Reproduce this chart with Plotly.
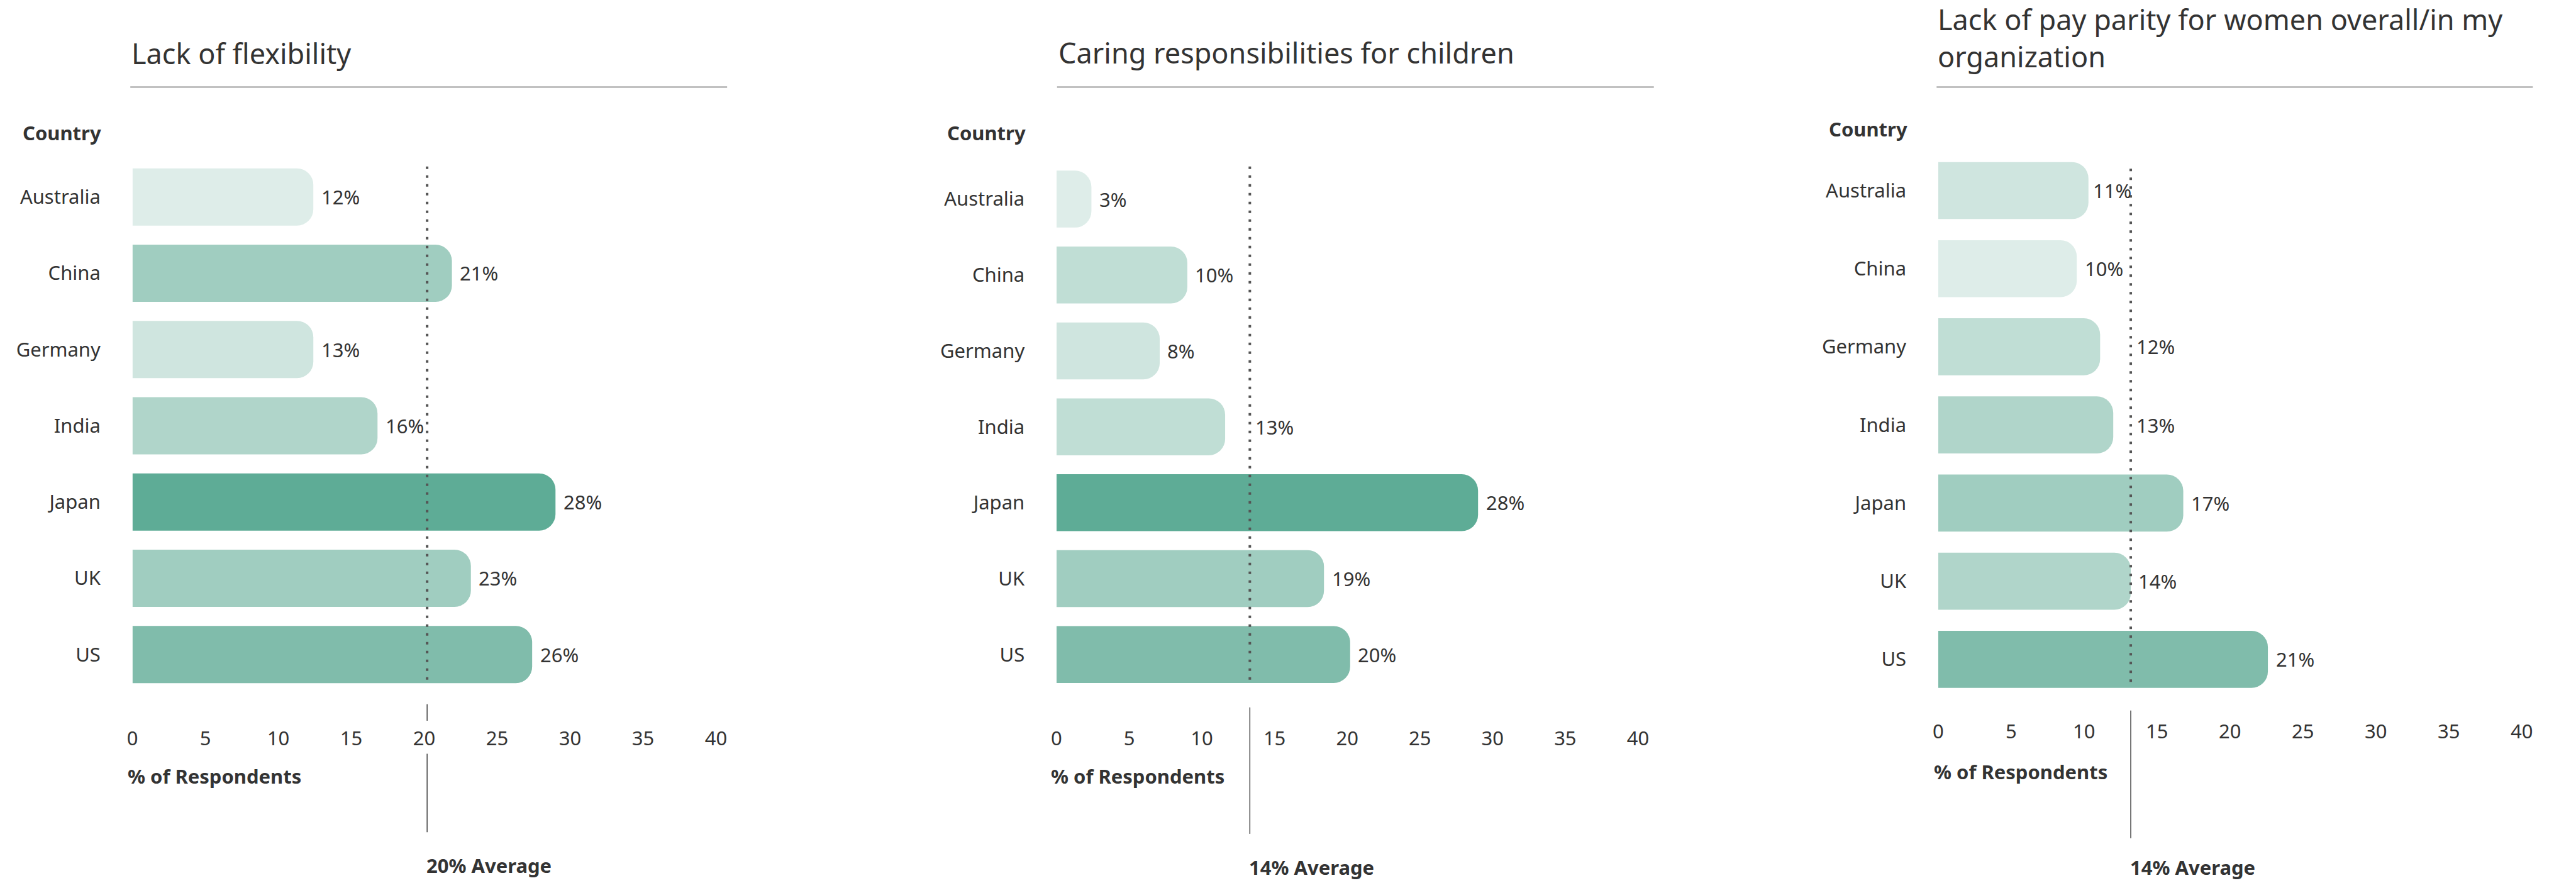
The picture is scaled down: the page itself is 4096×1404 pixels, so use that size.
import plotly.graph_objects as go

# ---------------- DATA ----------------
countries = ["Australia", "China", "Germany", "India", "Japan", "UK", "US"]

flex_values = [12.4, 21.9, 12.4, 16.8, 29.0, 23.2, 27.4]
flex_labels = ["12%", "21%", "13%", "16%", "28%", "23%", "26%"]

care_values = [2.4, 9.0, 7.1, 11.6, 29.0, 18.4, 20.2]
care_labels = ["3%", "10%", "8%", "13%", "28%", "19%", "20%"]

pay_values = [10.3, 9.5, 11.1, 12.0, 16.8, 13.2, 22.6]
pay_labels = ["11%", "10%", "12%", "13%", "17%", "14%", "21%"]

titles = [
    "Lack of flexibility",
    "Caring responsibilities for children",
    "Lack of pay parity for women overall/in my<br>organization",
]
avg_values = [20.2, 13.3, 13.2]
avg_labels = ["20% Average", "14% Average", "14% Average"]

x_ticks = [0, 5, 10, 15, 20, 25, 30, 35, 40]
x_axis_label = "% of Respondents"
y_axis_label = "Country"

# ---------------- STYLE ----------------
W0, H0 = 4824, 1654          # reference size
S = 0.849                    # scale to output
W, H = 4096, 1404
FONT = "Noto Sans"
TXT = "#333333"
FS = 31
TITLE_FS = 45

shades = ["#DEEDE9", "#CFE5DF", "#C0DED5", "#B0D5CA", "#A0CDC0", "#80BCAB", "#5EAC96"]
flex_colors = [shades[i] for i in [0, 4, 1, 3, 6, 4, 5]]
care_colors = [shades[i] for i in [0, 2, 1, 2, 6, 4, 5]]
pay_colors = [shades[i] for i in [1, 0, 2, 3, 4, 3, 5]]

LABEL_GAP = 0.45             # axis units between bar end and its label
CHAR_W = 0.87                # approx. label character width, axis units


def fx(x):
    return x / W0


def fy(y):
    return 1 - y / H0


panels = [
    dict(x0=239, x40=1339, ytop=297.6, ybot=1297.4, tick_y=1381, resp_x=228, resp_y=1454,
         avg_lbl_y=1621, avg_top=1319, avg_bot=1559, dot_top=312, dot_bot=1282,
         country_x=183, country_y=248, title_x=235, title_y=100, line_x1=1360, bw=0.75),
    dict(x0=1981, x40=3077, ytop=301.9, ybot=1297.1, tick_y=1381, resp_x=1968, resp_y=1454,
         avg_lbl_y=1625, avg_top=1325, avg_bot=1562, dot_top=312, dot_bot=1282,
         country_x=1925, country_y=248, title_x=1982, title_y=98, line_x1=3107, bw=0.75),
    dict(x0=3643, x40=4743, ytop=283.8, ybot=1308.2, tick_y=1368, resp_x=3633, resp_y=1445,
         avg_lbl_y=1624, avg_top=1331, avg_bot=1570, dot_top=316, dot_bot=1284,
         country_x=3587, country_y=241, title_x=3640, title_y=71, line_x1=4764, bw=0.73),
]

series = [
    (flex_values, flex_labels, flex_colors),
    (care_values, care_labels, care_colors),
    (pay_values, pay_labels, pay_colors),
]

fig = go.Figure()
shapes = []
annotations = []
layout_axes = {}

for i, (p, (vals, labs, cols)) in enumerate(zip(panels, series)):
    n = i + 1
    xa = "x" if n == 1 else f"x{n}"
    ya = "y" if n == 1 else f"y{n}"
    xkey = "xaxis" if n == 1 else f"xaxis{n}"
    ykey = "yaxis" if n == 1 else f"yaxis{n}"
    av = avg_values[i]

    fig.add_trace(go.Bar(
        x=vals, y=countries, orientation="h",
        marker=dict(color=cols, line=dict(width=0)),
        width=p["bw"],
        xaxis=xa, yaxis=ya, showlegend=False, hoverinfo="skip",
    ))

    # value labels: after the bar end, kept clear of the average line
    for v, lab, c in zip(vals, labs, countries):
        w = CHAR_W * len(lab)
        start = v + LABEL_GAP
        end = start + w
        if start < av + 0.3 and end > av + 0.05:
            if av - v >= w + 0.1:
                start = min(start, av - w - 0.05)
            else:
                start = av + 0.3
        annotations.append(dict(
            text=lab, xref=xa, yref=ya, x=start, y=c, xanchor="left", yanchor="middle",
            showarrow=False, font=dict(family=FONT, size=FS, color=TXT),
        ))

    x_ticklen = (p["tick_y"] - p["ybot"]) * S - 25
    y_ticklen = (p["x0"] - p["country_x"]) * S - 4

    layout_axes[xkey] = dict(
        domain=[fx(p["x0"]), fx(p["x40"])], range=[0, 40], anchor=ya,
        tickvals=x_ticks, ticktext=[str(t) for t in x_ticks],
        showgrid=False, zeroline=False, showline=False,
        ticks="outside", ticklen=x_ticklen, tickcolor="rgba(0,0,0,0)",
        tickfont=dict(family=FONT, size=FS, color=TXT), fixedrange=True,
    )
    layout_axes[ykey] = dict(
        domain=[fy(p["ybot"]), fy(p["ytop"])], anchor=xa,
        type="category", categoryorder="array", categoryarray=countries,
        autorange="reversed",
        showgrid=False, zeroline=False, showline=False,
        ticks="outside", ticklen=y_ticklen, tickcolor="rgba(0,0,0,0)",
        tickfont=dict(family=FONT, size=FS, color=TXT), fixedrange=True,
    )

    # title + underline
    annotations.append(dict(
        text=titles[i], xref="paper", yref="paper",
        x=fx(p["title_x"]), y=fy(p["title_y"]),
        xanchor="left", yanchor="middle", align="left", showarrow=False,
        font=dict(family=FONT, size=TITLE_FS, color=TXT),
    ))
    shapes.append(dict(type="line", xref="paper", yref="paper",
                       x0=fx(p["title_x"]), x1=fx(p["line_x1"]), y0=fy(163), y1=fy(163),
                       line=dict(color="#8a8a8a", width=1.6)))

    # "Country" header
    annotations.append(dict(
        text=f"<b>{y_axis_label}</b>", xref="paper", yref="paper",
        x=fx(p["country_x"]), y=fy(p["country_y"]), xanchor="right", yanchor="middle",
        showarrow=False, font=dict(family=FONT, size=FS, color=TXT),
    ))
    # "% of Respondents"
    annotations.append(dict(
        text=f"<b>{x_axis_label}</b>", xref="paper", yref="paper",
        x=fx(p["resp_x"]), y=fy(p["resp_y"]), xanchor="left", yanchor="middle",
        showarrow=False, font=dict(family=FONT, size=FS, color=TXT),
    ))

    # average: dotted line across bars
    shapes.append(dict(type="line", xref=xa, yref="paper", x0=av, x1=av,
                       y0=fy(p["dot_top"]), y1=fy(p["dot_bot"]), layer="above",
                       line=dict(color="#555555", width=4, dash="4px,10px")))
    # solid reference line below axis (broken where it would cross a tick label)
    near_tick = min(abs(av - t) for t in x_ticks) < 1.5
    if near_tick:
        segs = [(p["avg_top"], p["tick_y"] - 31), (p["tick_y"] + 31, p["avg_bot"])]
    else:
        segs = [(p["avg_top"], p["avg_bot"])]
    for a, b in segs:
        shapes.append(dict(type="line", xref=xa, yref="paper", x0=av, x1=av,
                           y0=fy(a), y1=fy(b), line=dict(color="#444444", width=1.5)))
    annotations.append(dict(
        text=f"<b>{avg_labels[i]}</b>", xref=xa, yref="paper",
        x=av, y=fy(p["avg_lbl_y"]), xanchor="left", yanchor="middle", xshift=-3,
        showarrow=False, font=dict(family=FONT, size=FS, color=TXT),
    ))

fig.update_layout(
    width=W, height=H, margin=dict(l=0, r=0, t=0, b=0),
    paper_bgcolor="white", plot_bgcolor="white",
    barcornerradius=26,
    font=dict(family=FONT, size=FS, color=TXT),
    shapes=shapes, annotations=annotations,
    **layout_axes,
)

fig.write_html("out.html")
